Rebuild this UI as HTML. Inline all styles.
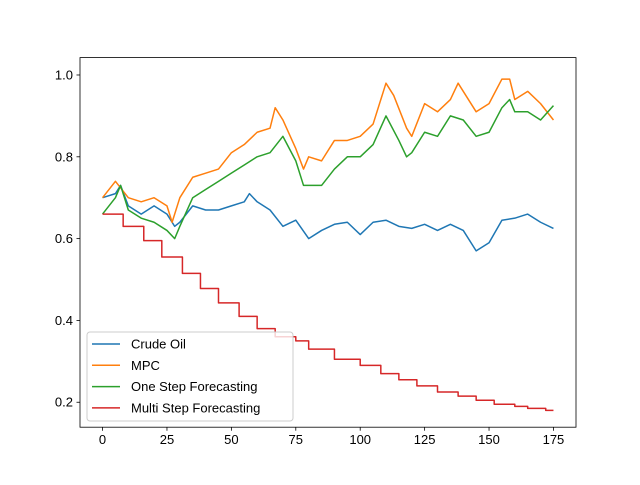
<!DOCTYPE html>
<html><head><meta charset="utf-8"><style>
body{margin:0;background:#fff}
svg text{font-family:"Liberation Sans","DejaVu Sans",sans-serif;font-size:13px;fill:#000}
</style></head><body>
<svg id="chart" width="640" height="480">
<rect width="640" height="480" fill="#fff"/>
</svg>
<script>
const crudeX=[0,5,7,10,15,20,25,28,30,35,40,45,50,55,57,60,65,70,75,80,85,90,95,100,105,110,115,120,125,130,135,140,145,150,155,160,165,170,175];
const crudeY=[0.70,0.71,0.73,0.68,0.66,0.68,0.66,0.63,0.64,0.68,0.67,0.67,0.68,0.69,0.71,0.69,0.67,0.63,0.645,0.60,0.62,0.635,0.64,0.61,0.64,0.645,0.63,0.625,0.635,0.62,0.635,0.62,0.57,0.59,0.645,0.65,0.66,0.64,0.625];
const mpcX=[0,5,10,15,20,25,27,30,35,40,45,50,55,60,65,67,70,75,78,80,85,90,95,100,105,110,113,118,120,125,130,135,138,145,150,155,158,160,165,170,175];
const mpcY=[0.70,0.74,0.70,0.69,0.70,0.68,0.64,0.70,0.75,0.76,0.77,0.81,0.83,0.86,0.87,0.92,0.89,0.82,0.77,0.80,0.79,0.84,0.84,0.85,0.88,0.98,0.95,0.87,0.85,0.93,0.91,0.94,0.98,0.91,0.93,0.99,0.99,0.94,0.96,0.93,0.89];
const oneX=[0,5,7,10,15,20,25,28,30,35,40,45,50,55,60,65,70,75,78,80,85,90,95,100,105,110,115,118,120,125,130,135,140,145,150,155,158,160,165,170,175];
const oneY=[0.66,0.70,0.73,0.67,0.65,0.64,0.62,0.60,0.63,0.70,0.72,0.74,0.76,0.78,0.80,0.81,0.85,0.79,0.73,0.73,0.73,0.77,0.80,0.80,0.83,0.90,0.84,0.80,0.81,0.86,0.85,0.90,0.89,0.85,0.86,0.92,0.94,0.91,0.91,0.89,0.925];
const multiX=[0,8,16,23,31,38,45,53,60,67,75,80,90,100,108,115,122,130,138,145,152,160,165,172,175];
const multiY=[0.66,0.63,0.595,0.555,0.515,0.478,0.443,0.41,0.38,0.36,0.35,0.33,0.305,0.29,0.27,0.255,0.24,0.225,0.215,0.205,0.195,0.19,0.185,0.18,0.18];
const xTicks=[0,25,50,75,100,125,150,175];
const yTicks=[0.2,0.4,0.6,0.8,1.0];
const seriesNames=["Crude Oil","MPC","One Step Forecasting","Multi Step Forecasting"];
const colors=["#1f77b4","#ff7f0e","#2ca02c","#d62728"];

const L=80,R=576,T=57.6,B=427.2;
const xMin=-8.75,xMax=183.75,yMin=0.139,yMax=1.0425;
const sx=v=>L+(v-xMin)/(xMax-xMin)*(R-L);
const sy=v=>B-(v-yMin)/(yMax-yMin)*(B-T);
const svg=document.getElementById('chart');
const NS='http://www.w3.org/2000/svg';
function mk(t,a,p){const e=document.createElementNS(NS,t);for(const k in a)e.setAttribute(k,a[k]);(p||svg).appendChild(e);return e;}

function line(xs,ys,c,name,step){
  let d='';
  for(let i=0;i<xs.length;i++){
    if(i===0)d+='M'+sx(xs[i])+','+sy(ys[i]);
    else if(step)d+='L'+sx(xs[i])+','+sy(ys[i-1])+'L'+sx(xs[i])+','+sy(ys[i]);
    else d+='L'+sx(xs[i])+','+sy(ys[i]);
  }
  const p=mk('path',{d:d,fill:'none',stroke:c,'stroke-width':1.5,'stroke-linejoin':'round'});
  
  
}
line(crudeX,crudeY,colors[0],'crude-oil-line');
line(mpcX,mpcY,colors[1],'mpc-line');
line(oneX,oneY,colors[2],'one-step-line');
line(multiX,multiY,colors[3],'multi-step-line',true);

const frame=mk('rect',{x:L,y:T,width:R-L,height:B-T,fill:'none',stroke:'#000','stroke-width':0.8});



xTicks.forEach(v=>{
  mk('line',{x1:sx(v),x2:sx(v),y1:B,y2:B+3.5,stroke:'#000','stroke-width':0.8});
  const t=mk('text',{x:sx(v),y:B+17,'text-anchor':'middle'});t.textContent=v;
  
  
});
yTicks.forEach(v=>{
  mk('line',{x1:L-3.5,x2:L,y1:sy(v),y2:sy(v),stroke:'#000','stroke-width':0.8});
  const t=mk('text',{x:L-7,y:sy(v)+4.5,'text-anchor':'end'});t.textContent=v.toFixed(1);
  
  
});

const lg=mk('g',{});


mk('rect',{x:87,y:332,width:206,height:89,rx:3,fill:'#fff','fill-opacity':0.8,stroke:'#ccc','stroke-width':1},lg);
seriesNames.forEach((n,i)=>{
  const y=344+i*21.3;
  const e=mk('g',{},lg);
  
  
  mk('line',{x1:92,x2:120,y1:y,y2:y,stroke:colors[i],'stroke-width':1.5},e);
  const t=mk('text',{x:131,y:y+4.5},e);t.textContent=n;
});
</script>
</body></html>
